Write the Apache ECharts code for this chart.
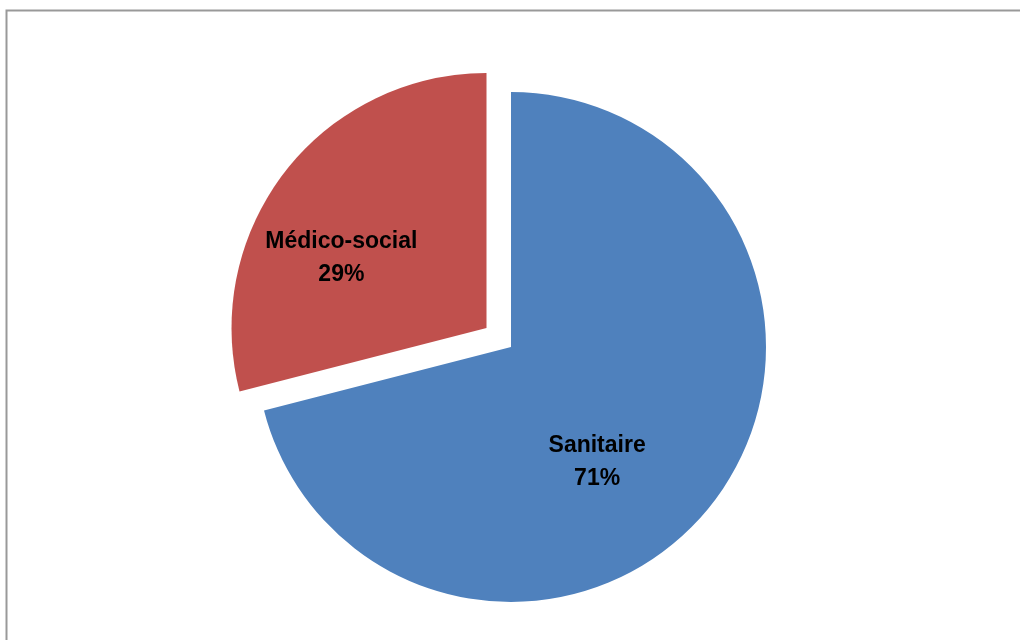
<!DOCTYPE html>
<html>
<head>
<meta charset="utf-8">
<script src="https://cdn.jsdelivr.net/npm/echarts@6/dist/echarts.min.js"></script>
<style>
  html, body { margin: 0; padding: 0; background: #fff; }
  #chart { width: 1020px; height: 640px; }
</style>
</head>
<body>
<div id="chart"></div>
<script>
// data
var categories = ['Sanitaire', 'Médico-social'];
var values = [71, 29];
var colors = ['#4F81BD', '#C0504D'];
var exploded = [false, true];
// label nudges (Excel places them a bit differently than echarts 'inside')
var labelOffsets = [[-17, 35], [-42, 10]];

window.addEventListener('load', function () {
  var myChart = echarts.init(document.getElementById('chart'));

  var pieData = categories.map(function (name, i) {
    return {
      name: name,
      value: values[i],
      selected: exploded[i],
      itemStyle: { color: colors[i] }
    };
  });

  var option = {
    animation: false,
    graphic: [
      {
        type: 'rect',
        left: 4,
        top: 8,
        shape: { width: 1040, height: 660 },
        style: { fill: 'none', stroke: '#999999', lineWidth: 2 },
        silent: true
      }
    ],
    series: [
      {
        type: 'pie',
        center: [511, 347],
        radius: 255,
        startAngle: 90,
        clockwise: true,
        selectedMode: 'single',
        selectedOffset: 31,
        silent: true,
        label: {
          show: true,
          position: 'inside',
          formatter: '{b}\n{d}%',
          color: '#000',
          fontFamily: '"Liberation Sans Narrow", "Liberation Sans", sans-serif',
          fontWeight: 'bold',
          fontSize: 23,
          lineHeight: 33,
          align: 'center'
        },
        labelLayout: function (params) {
          var o = labelOffsets[params.dataIndex];
          return { dx: o[0], dy: o[1] };
        },
        labelLine: { show: false },
        emphasis: { disabled: true },
        data: pieData
      }
    ]
  };

  myChart.setOption(option);
});
</script>
</body>
</html>
